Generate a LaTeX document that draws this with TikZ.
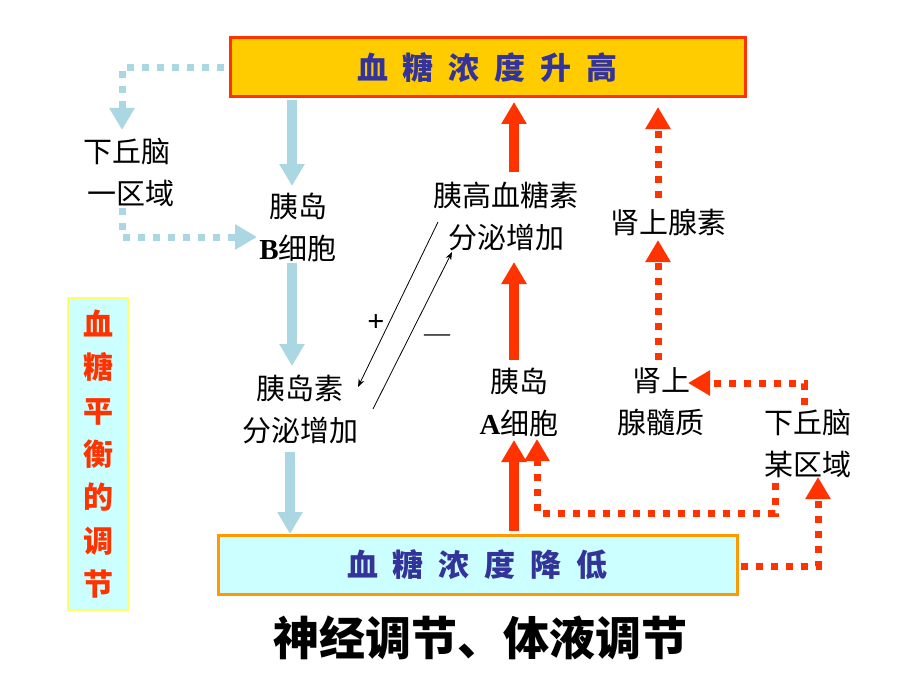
\documentclass[tikz,border=0pt]{standalone}
\usepackage{fontspec}
\setmainfont{Liberation Serif}
\newfontfamily\cjk{Noto Sans CJK SC}
\usetikzlibrary{arrows.meta}
\definecolor{lb}{RGB}{170,215,225}
\definecolor{rd}{RGB}{255,51,0}
\definecolor{gold}{RGB}{255,204,0}
\definecolor{tblue}{RGB}{51,51,153}
\definecolor{cy}{RGB}{204,255,255}
\definecolor{orng}{RGB}{255,153,0}
\definecolor{yel}{RGB}{255,255,102}
\tikzset{
  lbthick/.style={draw=lb, line width=10pt, -{Triangle[width=24pt,length=22pt]}},
  rdthick/.style={draw=rd, line width=10pt, -{Triangle[width=24pt,length=22pt]}},
  lbdot/.style={draw=lb, line width=7pt, dash pattern=on 7pt off 8pt, -{Triangle[width=24pt,length=22pt]}},
  rddot/.style={draw=rd, line width=7pt, dash pattern=on 7pt off 8pt, -{Triangle[width=24pt,length=22pt]}},
  thinarr/.style={draw=black, line width=0.8pt, -{Stealth[width=6pt,length=8pt]}},
  lbl/.style={font=\cjk\fontsize{29}{42}\selectfont, align=center, inner sep=0pt},
  bigbox/.style={draw, line width=3pt, inner sep=0pt, minimum height=59pt}
}
\begin{document}
\begin{tikzpicture}[x=1pt,y=-1pt]
\useasboundingbox[fill=white] (0,0) rectangle (920,690);
% boxes
\node[bigbox, draw=rd, fill=gold, minimum width=515pt, text=tblue,
  font=\cjk\bfseries\fontsize{31}{31}\selectfont] (top) at (487.5,67.5)
  {血\hspace{15pt}糖\hspace{15pt}浓\hspace{15pt}度\hspace{15pt}升\hspace{15pt}高};
\node[bigbox, draw=orng, fill=cy, minimum width=519pt, text=tblue,
  font=\cjk\bfseries\fontsize{31}{31}\selectfont] (bot) at (477.5,564.5)
  {血\hspace{15pt}糖\hspace{15pt}浓\hspace{15pt}度\hspace{15pt}降\hspace{15pt}低};
\node[draw=yel, line width=1.5pt, fill=cy, minimum width=60pt, minimum height=312pt,
  text=rd, align=center, font=\cjk\bfseries\fontsize{30}{43.3}\selectfont] (side) at (98,454)
  {血\\糖\\平\\衡\\的\\调\\节};
\node[font=\cjk\bfseries\fontsize{46}{46}\selectfont, inner sep=0pt] (title) at (480,638) {神经调节、体液调节};
% labels
\node[lbl] (hyp1) at (127,172) {下丘脑\\\hspace{8pt}一区域};
\node[lbl] (bcell) at (298,227) {胰岛\\{\rmfamily\bfseries B}细胞};
\node[lbl] (ins) at (300,409) {胰岛素\\分泌增加};
\node[lbl] (glu) at (506,216) {胰高血糖素\\分泌增加};
\node[lbl] (epi) at (668,222) {肾上腺素};
\node[lbl] (acell) at (519,402) {胰岛\\{\rmfamily\bfseries A}细胞};
\node[lbl] (adr) at (661,402) {肾上\\腺髓质};
\node[lbl] (hyp2) at (808,443) {下丘脑\\某区域};
\node[font=\rmfamily\bfseries\fontsize{30}{30}\selectfont, inner sep=0pt] (plus) at (376,323) {+};
\node[font=\rmfamily\fontsize{26}{26}\selectfont, inner sep=0pt] (minus) at (437,338) {—};
% coordinates
\coordinate (a1s) at (292,100); \coordinate (a1e) at (292,186);
\coordinate (a2s) at (292,263); \coordinate (a2e) at (292,366);
\coordinate (a3s) at (290,452); \coordinate (a3e) at (290,534);
\coordinate (d1s) at (224,68); \coordinate (d1c) at (122,68); \coordinate (d1e) at (122,130);
\coordinate (d2s) at (122,208); \coordinate (d2c) at (122,237); \coordinate (d2e) at (257,237);
\coordinate (r1s) at (514,172); \coordinate (r1e) at (514,102);
\coordinate (r2s) at (514,360); \coordinate (r2e) at (514,262);
\coordinate (r3s) at (514,531); \coordinate (r3e) at (514,440);
\coordinate (e1s) at (658,198); \coordinate (e1e) at (658,107);
\coordinate (e2s) at (658,360); \coordinate (e2e) at (658,240);
\coordinate (h1s) at (804,405); \coordinate (h1c) at (804,383); \coordinate (h1e) at (688,383);
\coordinate (b1s) at (741,566); \coordinate (b1c) at (818,566); \coordinate (b1e) at (818,477);
\coordinate (h2s) at (775,483); \coordinate (h2c) at (775,513); \coordinate (h2d) at (537,513); \coordinate (h2e) at (537,439);
\coordinate (t1s) at (438,222); \coordinate (t1e) at (358,387);
\coordinate (t2s) at (373,409); \coordinate (t2e) at (452,252);
% connectors
\draw[lbthick] (a1s) -- (a1e);
\draw[lbthick] (a2s) -- (a2e);
\draw[lbthick] (a3s) -- (a3e);
\draw[lbdot] (d1s) -- (d1c) -- (d1e);
\draw[lbdot] (d2s) -- (d2c) -- (d2e);
\draw[rdthick] (r1s) -- (r1e);
\draw[rdthick] (r2s) -- (r2e);
\draw[rdthick] (r3s) -- (r3e);
\draw[rddot] (e1s) -- (e1e);
\draw[rddot] (e2s) -- (e2e);
\draw[rddot] (h1s) -- (h1c) -- (h1e);
\draw[rddot] (b1s) -- (b1c) -- (b1e);
\draw[rddot] (h2s) -- (h2c) -- (h2d) -- (h2e);
\draw[thinarr] (t1s) -- (t1e);
\draw[thinarr] (t2s) -- (t2e);
\end{tikzpicture}
\end{document}
